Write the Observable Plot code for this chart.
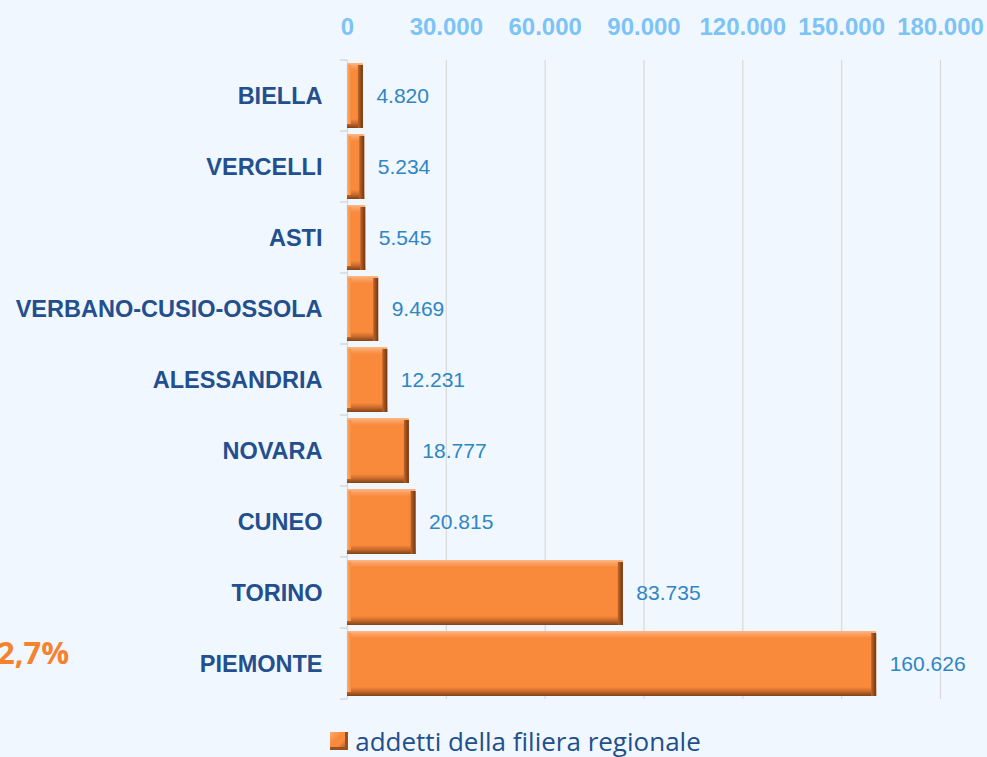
<!DOCTYPE html>
<html>
<head>
<meta charset="utf-8">
<script src="https://cdn.jsdelivr.net/npm/d3@7"></script>
<script src="https://cdn.jsdelivr.net/npm/@observablehq/plot@0.6"></script>
<style>
  html, body { margin: 0; padding: 0; background: #f1f7fe; overflow: hidden; }
  #wrap { position: relative; width: 987px; height: 757px; background: #f1f7fe; }
  #pct { position: absolute; left: -3px; top: 632px; font: bold 31px "Open Sans", "Noto Sans", sans-serif; color: #f5822f; line-height: 40px; }
  #legend { position: absolute; left: 0; top: 725px; width: 987px; height: 32px; display: flex; justify-content: center; align-items: center; font: 26px/30px "Open Sans", "Noto Sans", sans-serif; color: #214f8d; padding-left: 44px; box-sizing: border-box; }
  #legend .sw { width: 18px; height: 18px; margin-right: 7px; background: linear-gradient(135deg, #fcae73 0%, #f98a3b 35%, #f98a3b 60%, #8a4a1c 100%); box-shadow: inset -3px -3px 0 #9a5020; }
</style>
</head>
<body>
<svg width="0" height="0" style="position:absolute">
  <defs>
    <linearGradient id="bevelV" x1="0" y1="0" x2="0" y2="1">
      <stop offset="0" stop-color="#fdb885"/>
      <stop offset="0.05" stop-color="#fba062"/>
      <stop offset="0.11" stop-color="#f98a3b"/>
      <stop offset="0.86" stop-color="#f98a3b"/>
      <stop offset="0.93" stop-color="#c96a2b"/>
      <stop offset="1" stop-color="#7e4218"/>
    </linearGradient>
    <linearGradient id="bevelR" x1="0" y1="0" x2="1" y2="0">
      <stop offset="0" stop-color="#c46428"/>
      <stop offset="1" stop-color="#6e3812"/>
    </linearGradient>
    <linearGradient id="bevelL" x1="0" y1="0" x2="1" y2="0">
      <stop offset="0" stop-color="#fcae73"/>
      <stop offset="1" stop-color="#f98a3b"/>
    </linearGradient>
  </defs>
</svg>
<div id="wrap">
  <div id="chart"></div>
  <div id="pct">2,7%</div>
  <div id="legend"><span class="sw"></span><span>addetti della filiera regionale</span></div>
</div>
<script>
const categories = ["BIELLA", "VERCELLI", "ASTI", "VERBANO-CUSIO-OSSOLA", "ALESSANDRIA", "NOVARA", "CUNEO", "TORINO", "PIEMONTE"];
const values = [4820, 5234, 5545, 9469, 12231, 18777, 20815, 83735, 160626];
const xTicks = [0, 30000, 60000, 90000, 120000, 150000, 180000];
const seriesName = "addetti della filiera regionale";

const data = categories.map((c, i) => ({cat: c, value: values[i]}));
const fmt = d => d3.format(",")(d).replace(/,/g, ".");

const plot = Plot.plot({
  width: 987,
  height: 730,
  marginLeft: 347,
  marginRight: 47,
  marginTop: 60,
  marginBottom: 31,
  style: {background: "#f1f7fe", overflow: "visible"},
  x: {domain: [0, 180000], axis: null},
  y: {domain: categories, paddingInner: 0.09, paddingOuter: 0.045, axis: null},
  marks: [
    Plot.gridX(xTicks, {stroke: "#d9d9d9", strokeOpacity: 1, strokeWidth: 1.2}),
    Plot.axisX(xTicks, {anchor: "top", label: null, tickSize: 0, tickPadding: 26, tickFormat: fmt,
      fill: "#7cc3f8", fontSize: 24, fontWeight: "bold", fontFamily: "Liberation Sans, Arial, sans-serif"}),
    Plot.axisY({anchor: "left", label: null, tickSize: 0, tickPadding: 25, fill: "#234f8e", fontSize: 23.5,
      fontWeight: "bold", fontFamily: "Liberation Sans, Arial, sans-serif"}),
    Plot.barX(data, {y: "cat", x: "value", fill: "url(#bevelV)"}),
    Plot.rect(data, {y: "cat", x1: 0, x2: 0, insetRight: -4, insetTop: 2, insetBottom: 4, fill: "url(#bevelL)"}),
    Plot.rect(data, {y: "cat", x1: "value", x2: "value", insetLeft: -5, insetTop: 2, fill: "url(#bevelR)"}),
    Plot.text(data, {y: "cat", x: "value", text: d => fmt(d.value), dx: 13, textAnchor: "start",
      fill: "#2e86c4", fontSize: 21, fontFamily: "Liberation Sans, Arial, sans-serif"})
  ]
});

document.getElementById("chart").appendChild(plot);

// band boundary tick marks on the category axis
const ys = plot.scale("y");
const svg = d3.select(plot.tagName === "svg" ? plot : plot.querySelector("svg"));
const step = ys.step, bw = ys.bandwidth;
const bounds = [];
categories.forEach((c, i) => {
  const top = ys.apply(c) - (step - bw) / 2;
  bounds.push(top);
  if (i === categories.length - 1) bounds.push(top + step);
});
svg.append("g").selectAll("line").data(bounds).join("line")
  .attr("x1", 340).attr("x2", 347)
  .attr("y1", d => d).attr("y2", d => d)
  .attr("stroke", "#d0d0d0").attr("stroke-width", 1.2);
</script>
</body>
</html>
